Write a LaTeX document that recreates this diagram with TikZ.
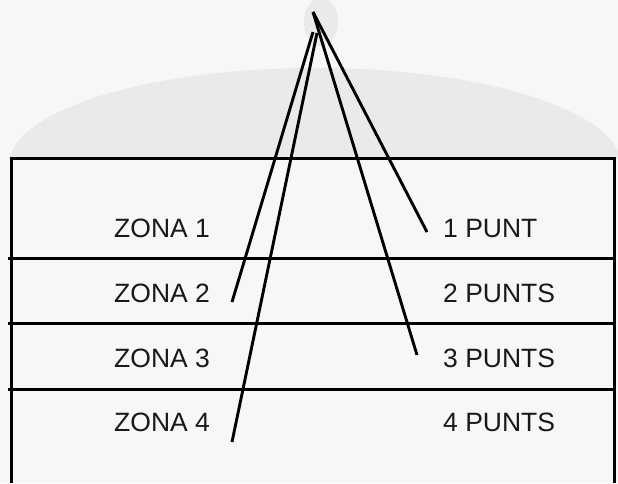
\documentclass[tikz,border=0pt]{standalone}
\usepackage{fontspec}
\setmainfont{Liberation Sans}
\definecolor{paper}{HTML}{F7F7F7}
\definecolor{shadeg}{HTML}{EAEAEA}
\begin{document}
\begin{tikzpicture}[x=1pt,y=-1pt,
  rule/.style={line width=3pt, black},
  link/.style={line width=2.9pt, black},
  lbl/.style={font=\fontsize{26.5}{30}\selectfont, inner sep=0pt, anchor=base west, text=black!90}]
\fill[paper] (0,0) rectangle (618,483);
\useasboundingbox (0,0) rectangle (618,483);
% faint background shapes
\begin{scope}
  \clip (0,0) rectangle (618,158);
  \fill[shadeg] (315,165) ellipse [x radius=306, y radius=97];
\end{scope}
\fill[shadeg] (321,22) ellipse [x radius=17, y radius=24];
% table
\draw[rule] (11,483) -- (11,158) -- (614,158) -- (614,483);
\draw[rule] (8,258) -- (614,258);
\draw[rule] (8,323.5) -- (614,323.5);
\draw[rule] (8,389) -- (614,389);
% labels
\node[lbl] (z1) at (114,237.5) {ZONA 1};
\node[lbl] (z2) at (114,302.5) {ZONA 2};
\node[lbl] (z3) at (114,367) {ZONA 3};
\node[lbl] (z4) at (114,431.5) {ZONA 4};
\node[lbl] (p1) at (443,237.5) {1 PUNT};
\node[lbl] (p2) at (443,302.5) {2 PUNTS};
\node[lbl] (p3) at (443,367) {3 PUNTS};
\node[lbl] (p4) at (443,431.5) {4 PUNTS};
% connector points
\coordinate (a1) at (313,12);
\coordinate (a2) at (313,32);
\coordinate (a3) at (317,33);
\coordinate (e1) at (427,232);
\coordinate (e2) at (232,302);
\coordinate (e3) at (417,355);
\coordinate (e4) at (232,442);
\draw[link] (a1) -- (e1);
\draw[link] (a1) -- (e3);
\draw[link] (a2) -- (e2);
\draw[link] (a3) -- (e4);
\end{tikzpicture}
\end{document}
